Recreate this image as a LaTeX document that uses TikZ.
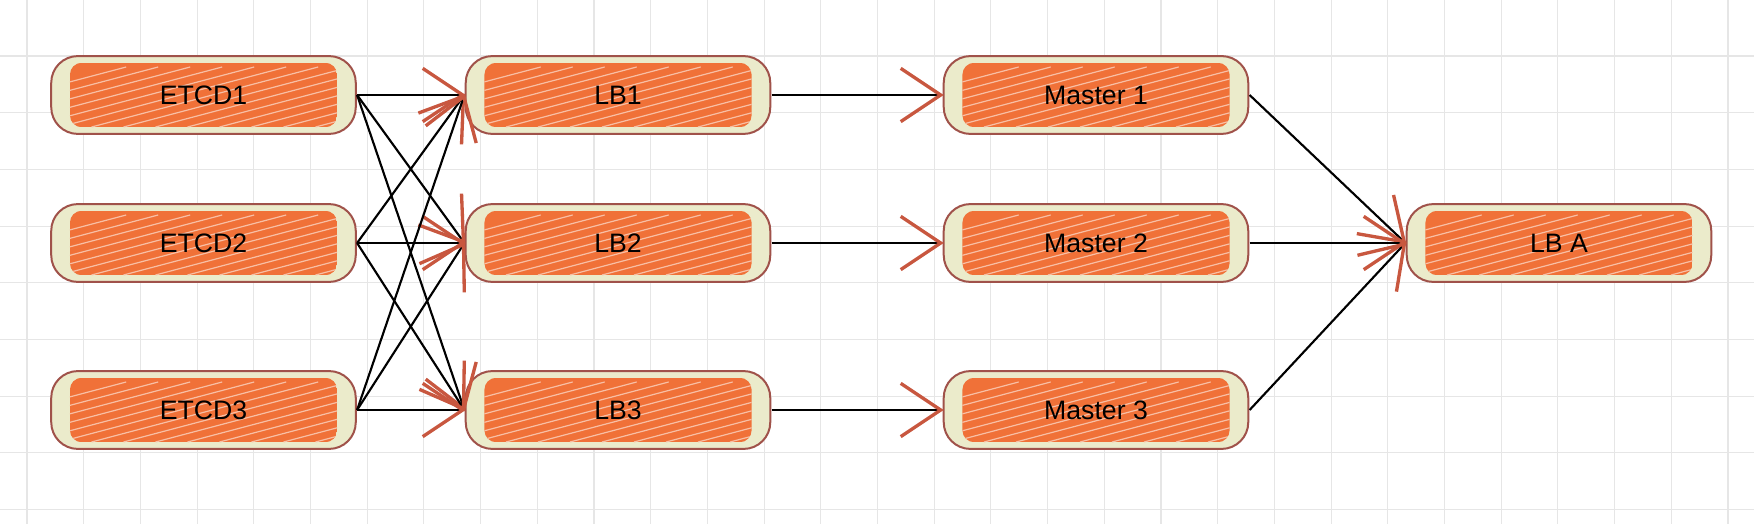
\documentclass[tikz,border=0pt]{standalone}
\usepackage{fontspec}
\setmainfont{Liberation Sans}
\usetikzlibrary{arrows.meta}
\definecolor{gridc}{HTML}{E6E6E6}
\definecolor{outerf}{HTML}{EBEBCB}
\definecolor{borderc}{HTML}{A0524A}
\definecolor{fillo}{HTML}{F07138}
\definecolor{tipc}{HTML}{C8573F}
\tikzset{
  box/.style={minimum width=230pt, minimum height=58pt, inner sep=0pt},
  conn/.style={line width=1.6pt, -{Straight Barb[length=30pt,width=40pt,line width=2.5pt,color=tipc]}, shorten >=-1pt},
}
\newcommand{\mybox}[3]{%
  \node[box] (#1) at (#2) {};
  \path[fill=outerf, draw=borderc, line width=1.5pt, rounded corners=20pt]
    ([xshift=1pt]#1.south west) rectangle ([xshift=-1pt]#1.north east);
  \begin{scope}
  \path[clip, rounded corners=9pt] ([xshift=15pt,yshift=5pt]#1.south west) rectangle ([xshift=-15pt,yshift=-5pt]#1.north east);
  \fill[fillo] ([xshift=15pt,yshift=5pt]#1.south west) rectangle ([xshift=-15pt,yshift=-5pt]#1.north east);
  \foreach \k in {-7,...,7}
    \draw[white!55!fillo, line width=0.9pt] ([xshift=\k*24pt-60pt,yshift=-24pt]#1.center) -- ++(170pt,45pt);
  \end{scope}
  \node[font=\fontsize{20}{24}\selectfont] at (#1.center) {#3};
}
\begin{document}
\begin{tikzpicture}[x=0.75pt,y=-0.75pt]
\useasboundingbox (0,0) rectangle (1754,524);
\fill[white] (0,0) rectangle (1754,524);
\foreach \i in {0,...,31} \draw[gridc, line width=0.8pt] (27+\i*56.7,0) -- (27+\i*56.7,524);
\foreach \j in {0,...,9} \draw[gridc, line width=0.8pt] (0,-0.7+\j*56.7) -- (1754,-0.7+\j*56.7);
\mybox{e1}{203.5,95}{ETCD1}
\mybox{e2}{203.5,243}{ETCD2}
\mybox{e3}{203.5,410}{ETCD3}
\mybox{l1}{618,95}{LB1}
\mybox{l2}{618,243}{LB2}
\mybox{l3}{618,410}{LB3}
\mybox{m1}{1096,95}{Master 1}
\mybox{m2}{1096,243}{Master 2}
\mybox{m3}{1096,410}{Master 3}
\mybox{la}{1559,243}{LB A}
\foreach \a in {e1,e2,e3} \foreach \b in {l1,l2,l3} \draw[conn] (\a.east) -- (\b.west);
\draw[conn] (l1.east) -- (m1.west);
\draw[conn] (l2.east) -- (m2.west);
\draw[conn] (l3.east) -- (m3.west);
\foreach \a in {m1,m2,m3} \draw[conn] (\a.east) -- (la.west);
\end{tikzpicture}
\end{document}
